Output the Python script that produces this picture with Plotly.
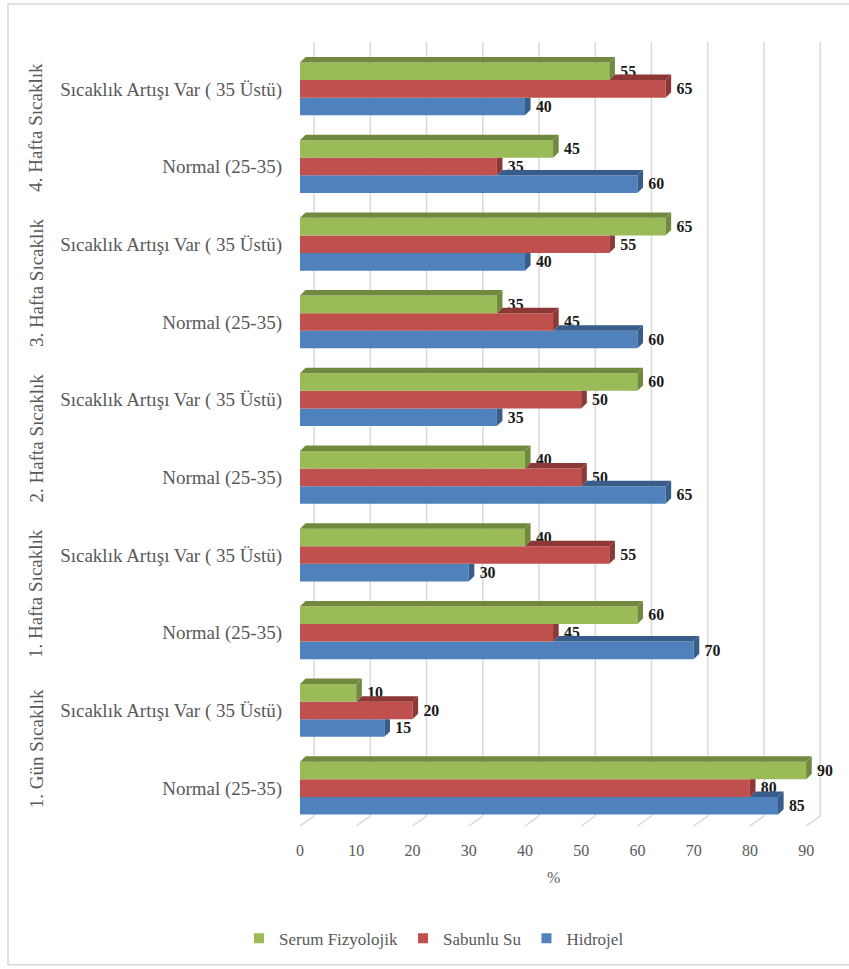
import plotly.graph_objects as go

groups = ["1. Gün Sıcaklık", "1. Hafta Sıcaklık", "2. Hafta Sıcaklık", "3. Hafta Sıcaklık", "4. Hafta Sıcaklık"]
subcats = ["Normal (25-35)", "Sıcaklık Artışı Var ( 35 Üstü)"]
hidrojel = [85, 15, 70, 30, 65, 35, 60, 40, 60, 40]
sabunlu = [80, 20, 45, 55, 50, 50, 45, 55, 35, 65]
serum = [90, 10, 60, 40, 40, 60, 35, 65, 45, 55]
x_ticks = [0, 10, 20, 30, 40, 50, 60, 70, 80, 90]
x_title = "%"

series = [
    ("Hidrojel", hidrojel, "#4F81BD", "#385D8A"),
    ("Sabunlu Su", sabunlu, "#C0504D", "#8C3836"),
    ("Serum Fizyolojik", serum, "#9BBB59", "#71893F"),
]

ypos = list(range(len(hidrojel)))
ticktext = [subcats[i % 2] for i in ypos]

FONT = "Liberation Serif"
bargap = 0.32
bw = (1 - bargap) / 3
dx, dy = 1.0, 0.07
back = 2.5  # depth offset of the back wall (in axis units)

fig = go.Figure()
for k, (name, vals, col, dark) in enumerate(series):
    fig.add_trace(go.Bar(
        name=name, y=ypos, x=vals, orientation="h",
        marker=dict(color=col, line=dict(width=0)),
        text=["\u2002" + str(v) for v in vals], textposition="outside",
        textfont=dict(family=FONT, size=18, color="#1a1a1a", weight="bold"),
        cliponaxis=False, showlegend=False,
    ))
# legend entries (square swatches), in reference order
for name, vals, col, dark in reversed(series):
    fig.add_trace(go.Scatter(
        name=name, x=[None], y=[None], mode="markers",
        marker=dict(symbol="square", size=10, color=col), showlegend=True,
    ))

L, R, T, B = 300, 823, 50, 829
W, H = R - L, B - T
def px2paper_x(p):
    return (p - L) / W
def px2paper_y(p):
    return (B - p) / H

shapes = []
# back-wall gridlines and floor diagonals
for t in x_ticks:
    shapes.append(dict(type="line", xref="x", yref="paper", x0=t + back, x1=t + back,
                       y0=px2paper_y(818), y1=px2paper_y(42),
                       line=dict(color="#D9D9D9", width=1.5), layer="below"))
    shapes.append(dict(type="line", xref="x", yref="paper", x0=t + back, x1=t,
                       y0=px2paper_y(818), y1=px2paper_y(828),
                       line=dict(color="#D9D9D9", width=1.5), layer="below"))

for k, (name, vals, col, dark) in enumerate(series):
    off = (k - 1) * bw
    above = series[k + 1][1] if k < 2 else None
    for i, v in enumerate(vals):
        y0 = i + off - bw / 2
        y1 = i + off + bw / 2
        a = above[i] if above is not None else 0
        if above is None or v > a:
            shapes.append(dict(type="path", xref="x", yref="y",
                               path=f"M {v},{y0} L {v},{y1} L {v+dx},{y1+dy} L {v+dx},{y0+dy} Z",
                               fillcolor=dark, line=dict(width=0), layer="above"))
            shapes.append(dict(type="path", xref="x", yref="y",
                               path=f"M {a},{y1} L {v},{y1} L {v+dx},{y1+dy} L {a+dx},{y1+dy} Z",
                               fillcolor=dark, line=dict(width=0), layer="above"))
        else:
            shapes.append(dict(type="path", xref="x", yref="y",
                               path=f"M {v},{y0} L {v},{y1} L {v+dx},{y1} L {v+dx},{y0+dy} Z",
                               fillcolor=dark, line=dict(width=0), layer="above"))

# outer border
shapes.append(dict(type="rect", xref="paper", yref="paper",
                   x0=px2paper_x(8), x1=px2paper_x(852), y0=px2paper_y(4), y1=px2paper_y(967),
                   line=dict(color="#D9D9D9", width=1.5), fillcolor="rgba(0,0,0,0)", layer="below"))

annotations = []
for g, name in enumerate(groups):
    annotations.append(dict(
        text=name, x=px2paper_x(36), xref="paper", y=2 * g + 0.5, yref="y",
        showarrow=False, textangle=-90, xanchor="center", yanchor="middle",
        font=dict(family=FONT, size=19, color="#595959")))
annotations.append(dict(
    text=x_title, x=45, xref="x", y=px2paper_y(880), yref="paper",
    showarrow=False, xanchor="center", yanchor="middle",
    font=dict(family=FONT, size=16, color="#595959")))

fig.update_layout(
    width=849, height=969,
    margin=dict(l=L, r=849 - R, t=T, b=969 - B),
    paper_bgcolor="white", plot_bgcolor="white",
    font=dict(family=FONT, color="#595959"),
    barmode="group", bargap=bargap, bargroupgap=0,
    showlegend=True,
    legend=dict(orientation="h", x=px2paper_x(434), xanchor="center", y=px2paper_y(941), yanchor="middle",
                font=dict(family=FONT, size=17, color="#595959"),
                itemwidth=30, tracegroupgap=0),
    xaxis=dict(range=[0, 93], tickvals=x_ticks, showgrid=False,
               zeroline=False, showline=False, ticks="", ticklabelstandoff=12,
               tickfont=dict(family=FONT, size=16, color="#595959")),
    yaxis=dict(range=[-0.5, 9.5], tickvals=ypos, ticktext=ticktext, showgrid=False, zeroline=False,
               ticks="", ticklabelstandoff=17,
               tickfont=dict(family=FONT, size=19, color="#595959")),
    shapes=shapes, annotations=annotations,
)

fig.write_html("out.html")
